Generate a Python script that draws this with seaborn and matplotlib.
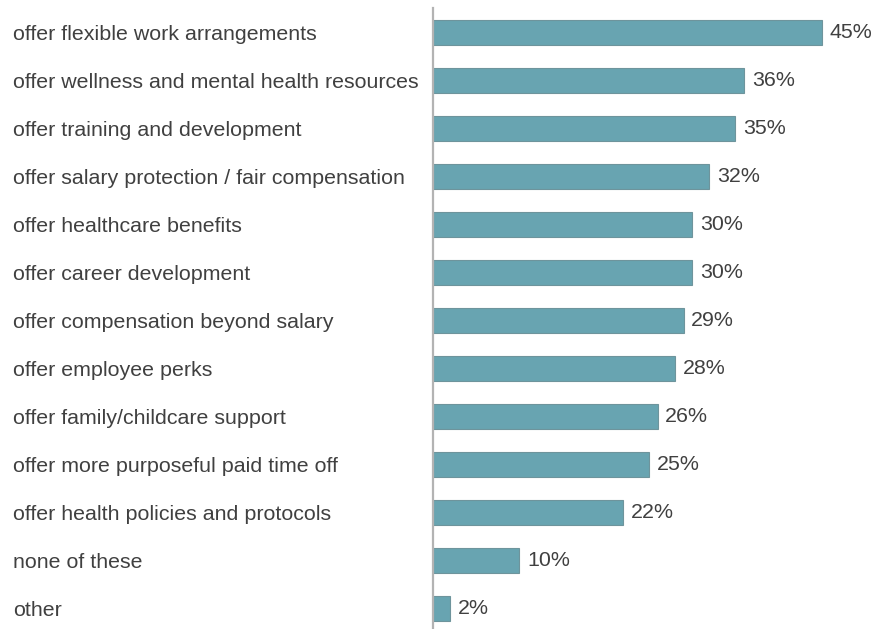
import matplotlib
matplotlib.use("Agg")
import matplotlib.pyplot as plt
import seaborn as sns
import pandas as pd

categories = [
    "offer flexible work arrangements",
    "offer wellness and mental health resources",
    "offer training and development",
    "offer salary protection / fair compensation",
    "offer healthcare benefits",
    "offer career development",
    "offer compensation beyond salary",
    "offer employee perks",
    "offer family/childcare support",
    "offer more purposeful paid time off",
    "offer health policies and protocols",
    "none of these",
    "other",
]
values = [45, 36, 35, 32, 30, 30, 29, 28, 26, 25, 22, 10, 2]
value_labels = [f"{v}%" for v in values]

df = pd.DataFrame({"category": categories, "value": values})

sns.set_theme(style="white")
plt.rcParams["font.family"] = ["Liberation Sans", "DejaVu Sans"]

fig = plt.figure(figsize=(8.79, 6.29), dpi=100)
ax = fig.add_axes([433 / 879, 1 / 629, 1 - 433 / 879, 620 / 629])

sns.barplot(data=df, x="value", y="category", orient="h", ax=ax,
            color="#68a4b1", saturation=1, width=0.52,
            edgecolor="#6e949c", linewidth=0.8)

ax.set_xlim(0, 446 / 8.64)
ax.set_ylim(12.4, -0.52)

ax.bar_label(ax.containers[0], labels=value_labels, padding=5.5,
             fontsize=15.4, color="#404040")

ax.set_xlabel("")
ax.set_ylabel("")
ax.set_xticks([])
for side in ["top", "right", "bottom"]:
    ax.spines[side].set_visible(False)
ax.spines["left"].set_color("#b3b3b3")
ax.spines["left"].set_linewidth(1.6)

ax.tick_params(axis="y", length=0, pad=420 * 72 / 100, labelsize=15.4,
               labelcolor="#404040")
for lbl in ax.get_yticklabels():
    lbl.set_horizontalalignment("left")

fig.savefig("out.png", dpi=100)
